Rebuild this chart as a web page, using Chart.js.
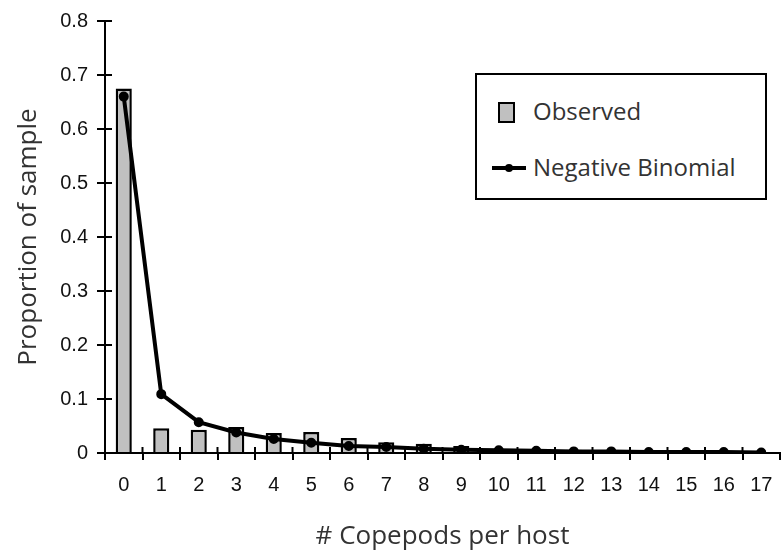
<!DOCTYPE html>
<html>
<head>
<meta charset="utf-8">
<script src="https://cdn.jsdelivr.net/npm/chart.js@4"></script>
<style>
  body { margin: 0; background: #fff; overflow: hidden; }
  #wrap { position: relative; width: 788px; height: 554px; }
  #legendBox {
    position: absolute; left: 475px; top: 73px; width: 288px; height: 123px;
    border: 2px solid #000; background: #fff;
    font-family: "Open Sans", Lato, sans-serif; font-size: 24px; color: #333;
  }
  .row { position: absolute; left: 0; height: 32px; line-height: 32px; }
  .swatch { position: absolute; left: 21px; top: 27px; width: 13px; height: 17px; border: 2px solid #000; background: #c0c0c0; }
  .lineSample { position: absolute; left: 15px; top: 91px; width: 34px; height: 4px; background: #000; }
  .lineSample:after { content: ""; position: absolute; left: 13px; top: -2px; width: 8px; height: 8px; border-radius: 50%; background: #000; }
</style>
</head>
<body>
<div id="wrap">
  <canvas id="copepodChart"></canvas>
  <div id="legendBox">
    <div class="swatch"></div>
    <div class="row" style="left:56px; top:20px;">Observed</div>
    <div class="lineSample"></div>
    <div class="row" style="left:56px; top:76px;">Negative Binomial</div>
  </div>
</div>
<script>
var ctx = document.getElementById('copepodChart').getContext('2d');

// number of copepods per host
var counts = ['0','1','2','3','4','5','6','7','8','9','10','11','12','13','14','15','16','17'];
// observed proportions (bars)
var observed = [0.675, 0.046, 0.043, 0.048, 0.037, 0.039, 0.028, 0.020, 0.017, 0.013, 0.006, 0.004, 0.006, 0.003, 0.002, 0.002, 0.001, 0.002];
// fitted negative binomial (line)
var negBinomial = [0.660, 0.109, 0.057, 0.038, 0.026, 0.019, 0.013, 0.011, 0.008, 0.006, 0.005, 0.004, 0.003, 0.003, 0.002, 0.002, 0.002, 0.001];

var yTicks = [0, 0.1, 0.2, 0.3, 0.4, 0.5, 0.6, 0.7, 0.8];

var titleFont = { family: '"Open Sans", Lato, sans-serif', size: 26 };
var tickFont = { family: '"Liberation Sans", Arial, sans-serif', size: 20 };

// short tick marks on the inner side of both axes, so they cross the axis line
var innerTicks = {
  id: 'innerTicks',
  afterDraw: function(chart) {
    var c = chart.ctx, xs = chart.scales.x, ys = chart.scales.y;
    c.save();
    c.strokeStyle = '#000';
    c.lineWidth = 2;
    ys.ticks.forEach(function(t, i) {
      var y = ys.getPixelForTick(i);
      c.beginPath(); c.moveTo(ys.right, y); c.lineTo(ys.right + 7, y); c.stroke();
    });
    for (var i = 1; i < counts.length; i++) {
      var x = (xs.getPixelForValue(i - 1) + xs.getPixelForValue(i)) / 2;
      c.beginPath(); c.moveTo(x, xs.top); c.lineTo(x, xs.top - 6); c.stroke();
    }
    c.restore();
  }
};

var chart = new Chart(ctx, {
  data: {
    labels: counts,
    datasets: [{
      type: 'line',
      label: 'Negative Binomial',
      data: negBinomial,
      borderColor: '#000',
      backgroundColor: '#000',
      borderWidth: 4,
      pointRadius: 3,
      pointBackgroundColor: '#000',
      tension: 0,
      order: 0
    }, {
      type: 'bar',
      label: 'Observed',
      data: observed,
      backgroundColor: '#c0c0c0',
      borderColor: '#000',
      borderWidth: 2.5,
      barPercentage: 0.43,
      categoryPercentage: 1.0,
      order: 1
    }]
  },
  options: {
    responsive: true,
    maintainAspectRatio: false,
    animation: false,
    layout: { padding: { top: 20, right: 2, left: 0, bottom: 0 } },
    plugins: { legend: { display: false }, tooltip: { enabled: false } },
    scales: {
      x: {
        offset: true,
        grid: { offset: true, drawOnChartArea: false, drawTicks: true, tickLength: 7, color: '#000', lineWidth: 2 },
        border: { display: true, color: '#000', width: 2 },
        ticks: { color: '#111', font: tickFont, padding: 13, maxRotation: 0, autoSkip: false },
        title: { display: true, text: '# Copepods per host', color: '#333', font: titleFont, padding: { top: 0, bottom: 2 } },
        afterFit: function(scale) { scale.height = 101; }
      },
      y: {
        min: 0,
        max: 0.8,
        afterBuildTicks: function(scale) { scale.ticks = yTicks.map(function(v) { return { value: v }; }); },
        grid: { drawOnChartArea: false, drawTicks: true, tickLength: 8, color: '#000', lineWidth: 2 },
        border: { display: true, color: '#000', width: 2 },
        ticks: { color: '#111', font: tickFont, padding: 9 },
        title: { display: true, text: 'Proportion of sample', color: '#333', font: titleFont, padding: { top: 13, bottom: 0 } },
        afterFit: function(scale) { scale.width = 105; }
      }
    }
  },
  plugins: [innerTicks]
});
</script>
</body>
</html>
